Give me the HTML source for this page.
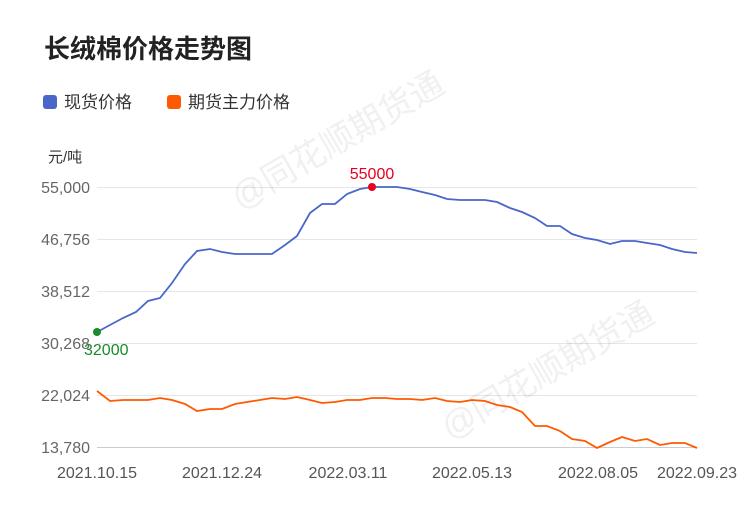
<!DOCTYPE html>
<html><head><meta charset="utf-8"><style>
body{margin:0;background:#fff;width:750px;height:510px;overflow:hidden;font-family:"Liberation Sans","Noto Sans CJK SC",sans-serif;}
</style></head><body>
<svg width="750" height="510" xmlns="http://www.w3.org/2000/svg" font-family="Liberation Sans, Noto Sans CJK SC, sans-serif">
<text x="44" y="58" font-size="26" font-weight="bold" fill="#222">长绒棉价格走势图</text>
<rect x="43" y="95" width="14" height="14" rx="3" fill="#4a66c8"/>
<text x="64" y="108" font-size="17" fill="#333">现货价格</text>
<rect x="167" y="95" width="14" height="14" rx="3" fill="#ff5a00"/>
<text x="188" y="108" font-size="17" fill="#333">期货主力价格</text>
<text x="48" y="162" font-size="15" fill="#333">元/吨</text>
<g font-size="16" fill="#666" text-anchor="end">
<text x="90" y="193">55,000</text><text x="90" y="245">46,756</text><text x="90" y="297">38,512</text>
<text x="90" y="349">30,268</text><text x="90" y="401">22,024</text><text x="90" y="453">13,780</text>
</g>
<g stroke="#e6e6e6" stroke-width="1">
<line x1="97" y1="187.5" x2="697" y2="187.5"/><line x1="97" y1="239.5" x2="697" y2="239.5"/>
<line x1="97" y1="291.5" x2="697" y2="291.5"/><line x1="97" y1="343.5" x2="697" y2="343.5"/>
<line x1="97" y1="395.5" x2="697" y2="395.5"/>
</g>
<line x1="97" y1="447.5" x2="697" y2="447.5" stroke="#ccc"/>
<g font-size="16" fill="#555" text-anchor="middle">
<text x="97" y="478">2021.10.15</text><text x="222" y="478">2021.12.24</text><text x="348" y="478">2022.03.11</text>
<text x="472" y="478">2022.05.13</text><text x="598" y="478">2022.08.05</text><text x="697" y="478">2022.09.23</text>
</g>
<g font-size="34" fill="#000" opacity="0.06">
<text transform="translate(240,210) rotate(-30)">@同花顺期货通</text>
<text transform="translate(450,440) rotate(-30)">@同花顺期货通</text>
</g>
<polyline fill="none" stroke="#4a66c8" stroke-width="1.8" points="97,332 110,325 123,318 136,312 148,301 160,298 172,283 185,264 197,251 210,249 222,252 235,254 247,254 260,254 272,254 285,245 297,236 310,213 322,204 335,204 347,194 360,189 372,187 385,187 397,187 410,189 422,192 435,195 447,199 460,200 472,200 485,200 497,202 510,208 522,212 535,218 547,226 560,226 572,234 585,238 597,240 610,244 622,241 635,241 647,243 660,245 672,249 685,252 697,253"/>
<polyline fill="none" stroke="#ff5a00" stroke-width="1.8" points="97,391 110,401 123,400 136,400 148,400 160,398 172,400 185,404 197,411 210,409 222,409 235,404 247,402 260,400 272,398 285,399 297,397 310,400 322,403 335,402 347,400 360,400 372,398 385,398 397,399 410,399 422,400 435,398 447,401 460,402 472,400 485,401 497,405 510,407 522,412 535,426 547,426 560,431 572,439 585,441 597,448 610,442 622,437 635,441 647,439 660,445 672,443 685,443 697,448"/>
<circle cx="97" cy="332" r="4" fill="#1a8a2a"/>
<text x="84" y="355" font-size="16" fill="#1a8a2a">32000</text>
<circle cx="372" cy="187" r="4" fill="#e8001c"/>
<text x="372" y="179" font-size="16" fill="#e8001c" text-anchor="middle">55000</text>
</svg>
</body></html>
